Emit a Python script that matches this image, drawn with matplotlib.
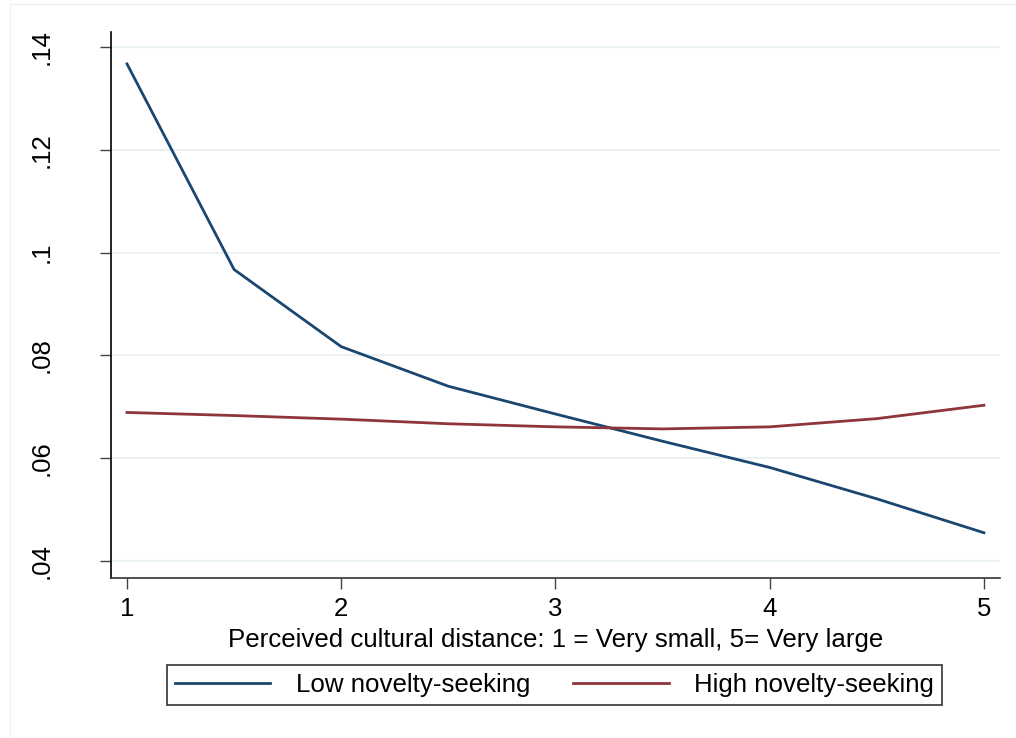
import matplotlib
matplotlib.use("Agg")
import matplotlib.pyplot as plt
from matplotlib.lines import Line2D

plt.rcParams['font.family'] = ['Liberation Sans', 'DejaVu Sans']

x_vals = [1, 1.5, 2, 2.5, 3, 3.5, 4, 4.5, 5]
low_novelty = [0.1367, 0.0967, 0.0817, 0.0740, 0.0686, 0.0633, 0.0582, 0.0521, 0.0455]
high_novelty = [0.0689, 0.0683, 0.0676, 0.0667, 0.0661, 0.0657, 0.0661, 0.0677, 0.0703]
series_names = ["Low novelty-seeking", "High novelty-seeking"]
x_ticks = [1, 2, 3, 4, 5]
y_ticks = [0.04, 0.06, 0.08, 0.10, 0.12, 0.14]
y_tick_labels = [".04", ".06", ".08", ".1", ".12", ".14"]
x_label = "Perceived cultural distance: 1 = Very small, 5= Very large"

blue = "#1a476f"
red = "#90353b"
grid_c = "#eaf2f3"

W, H = 1016, 738
fig = plt.figure(figsize=(W / 100, H / 100), dpi=100)
fig.patch.set_facecolor("white")

# faint outer graph-region frame
fig.add_artist(Line2D([10 / W, 10 / W], [0, 1 - 4 / H], transform=fig.transFigure,
                      color="#eef4f4", lw=1))
fig.add_artist(Line2D([10 / W, 1], [1 - 4 / H, 1 - 4 / H], transform=fig.transFigure,
                      color="#eef4f4", lw=1))

left, right, bottom, top = 110.7 / W, 1000 / W, 1 - 578 / H, 1 - 32 / H
ax = fig.add_axes([left, bottom, right - left, top - bottom])

ax.plot(x_vals, low_novelty, color=blue, lw=2, label=series_names[0], zorder=3)
ax.plot(x_vals, high_novelty, color=red, lw=2, label=series_names[1], zorder=3)

ax.set_xlim(0.924, 5.075)
ax.set_ylim(0.0367, 0.1429)

for yv in y_ticks:
    ax.axhline(yv, color=grid_c, lw=1.5, zorder=1)

ax.set_xticks(x_ticks)
ax.set_xticklabels([str(v) for v in x_ticks])
ax.set_yticks(y_ticks)
ax.set_yticklabels(y_tick_labels, rotation=90, va="center")

ax.tick_params(axis="both", labelsize=18.5, length=8, width=1, color="#444444")
ax.tick_params(axis="x", pad=6)
ax.tick_params(axis="y", pad=33)

for s in ["top", "right"]:
    ax.spines[s].set_visible(False)
ax.spines["left"].set_color("black")
ax.spines["bottom"].set_color("#333333")
ax.spines["left"].set_linewidth(1.2)
ax.spines["bottom"].set_linewidth(1.2)

ax.set_xlabel(x_label, fontsize=18.6, labelpad=5)

leg = fig.legend(loc="center", bbox_to_anchor=(554.5 / W, 1 - 685 / H), ncol=2,
                 fontsize=18.6, frameon=True, fancybox=False, edgecolor="black",
                 handlelength=3.7, handletextpad=1.0, columnspacing=1.65,
                 borderpad=0.3, borderaxespad=0)
leg.get_frame().set_linewidth(1.2)

fig.savefig("out.png", dpi=100, facecolor="white")
